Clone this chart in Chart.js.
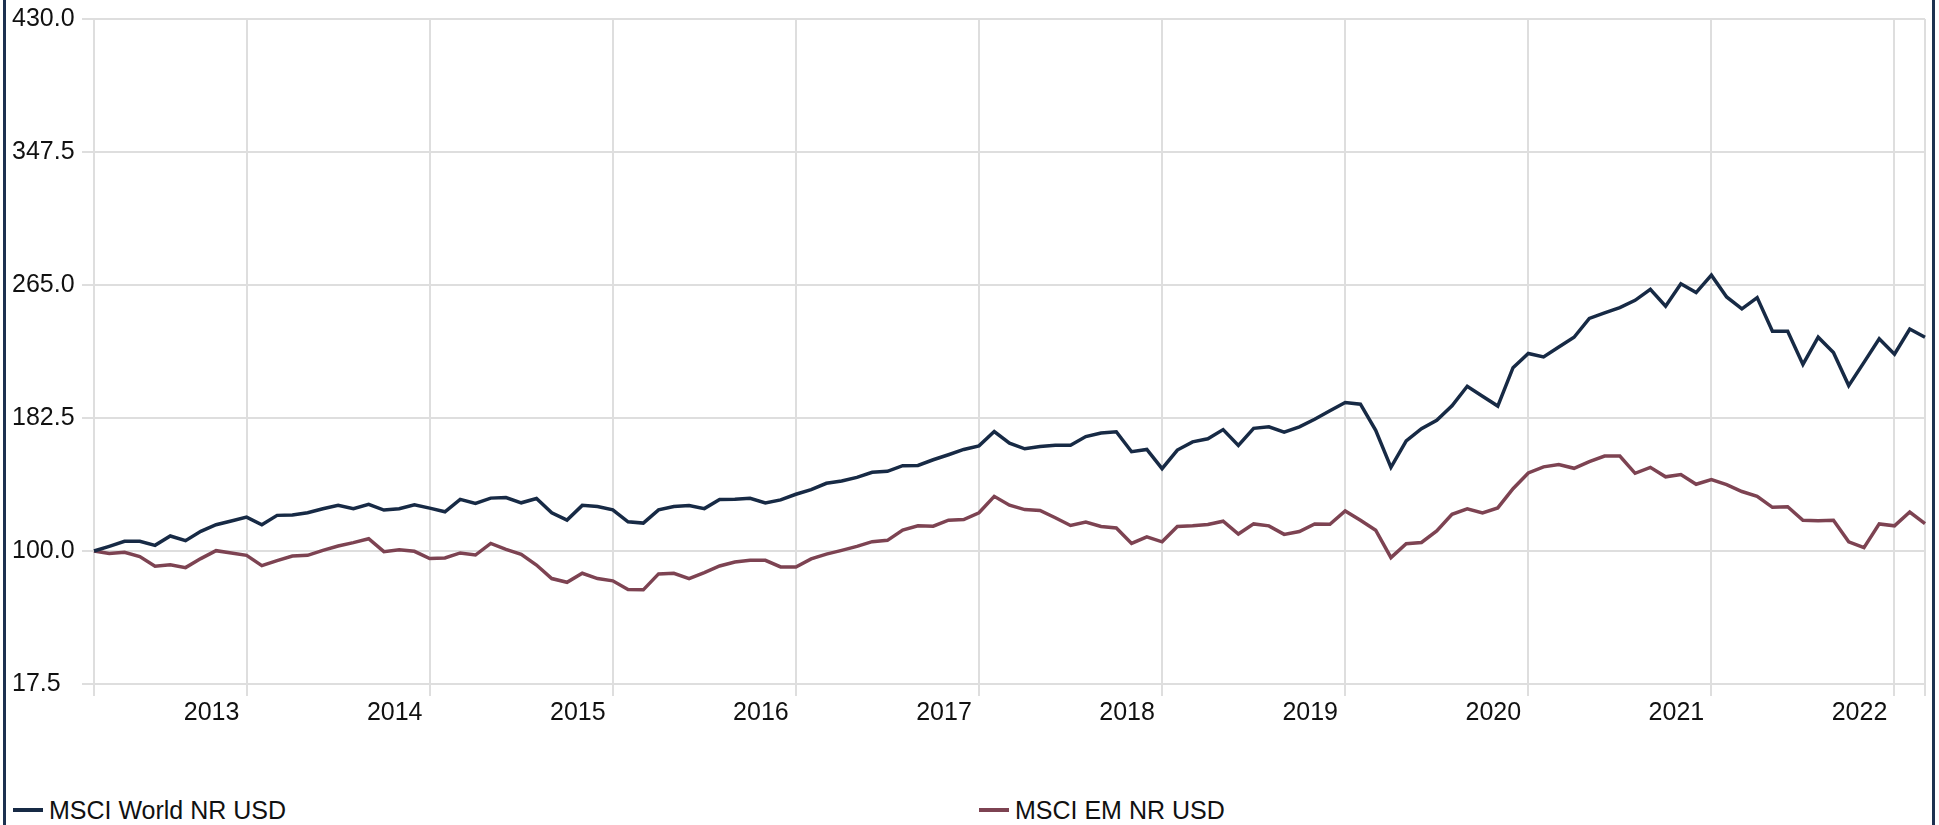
<!DOCTYPE html>
<html>
<head>
<meta charset="utf-8">
<script src="https://cdn.jsdelivr.net/npm/chart.js@4.4.1/dist/chart.umd.min.js"></script>
<style>
  html, body { margin: 0; padding: 0; background: #fff; overflow: hidden; }
  body { width: 1939px; height: 825px; position: relative; font-family: 'Liberation Sans', Arial, sans-serif; }
  #frame { position: absolute; left: 3px; top: -10px; width: 1926px; height: 850px; border-left: 3px solid #1d3150; border-right: 3px solid #1d3150; }
  #chart { position: absolute; left: 0; top: 0; }
  #legend { position: absolute; left: 13px; top: 795px; display: flex; }
  .item { width: 966px; font-size: 25px; line-height: 30px; color: #111; white-space: nowrap; }
  .swatch { display: inline-block; width: 30px; height: 4px; margin-right: 6px; vertical-align: middle; position: relative; top: -2px; }
</style>
</head>
<body>
<div id="frame"></div>
<canvas id="chart" width="1939" height="740"></canvas>
<div id="legend"></div>
<script>
// monthly points, end of Feb 2013 .. end of Feb 2023
const months = []
for (let i = 0; i < 121; i++) {
  const m = (1 + i) % 12
  const y = 2013 + Math.floor((1 + i) / 12)
  months.push(y + '-' + String(m + 1).padStart(2, '0'))
}

const seriesNames = ['MSCI World NR USD', 'MSCI EM NR USD']
const seriesColors = ['#172a45', '#7d4352']

const world = [
  100, 102.9, 106, 106, 103.5, 109.3, 106.4, 112.2, 116.3, 118.6, 121,
  116.3, 122.1, 122.3, 123.7, 126.2, 128.3, 126.2, 128.9, 125.4, 126.2, 128.7, 126.6,
  124.3, 132, 129.5, 132.8, 133.2, 129.9, 132.6, 123.7, 119.2, 128.3, 127.6, 125.5,
  118.1, 117.3, 125.5, 127.6, 128.2, 126.3, 131.9, 132.1, 132.7, 129.8, 131.7, 135.2,
  138.1, 142, 143.4, 145.7, 148.8, 149.4, 152.9, 153.1, 156.6, 159.7, 163, 165.2,
  174.1, 166.9, 163.4, 164.8, 165.6, 165.6, 171, 173.2, 174, 161.6, 163, 151.1,
  162.6, 167.7, 169.6, 175.3, 165.5, 176.1, 177, 173.7, 177, 181.7, 187, 192.1,
  191.1, 174.9, 151.9, 168.3, 175.9, 181.1, 190.1, 202.2, 196, 189.9, 213.7, 222.5,
  220.4, 226.5, 232.6, 244.3, 247.7, 251, 255.5, 262.3, 251.8, 265.8, 260.3, 271.1,
  257.6, 250.2, 257.2, 236.3, 236.3, 215.7, 232.6, 223.1, 202.6, 217, 231.7, 222.1,
  237.7, 232.6
]

const em = [
  100, 98.4, 99.2, 96.5, 90.5, 91.5, 89.7, 95.3, 100.2, 98.8, 97.3,
  90.9, 94, 96.9, 97.3, 100.4, 103.1, 105.2, 107.6, 99.6, 100.8, 99.8, 95.3,
  95.7, 98.8, 97.5, 104.7, 101, 97.9, 91.3, 82.9, 80.6, 86.2, 82.9, 81.5,
  76.1, 75.9, 85.8, 86.2, 82.9, 86.6, 90.7, 93.2, 94.2, 94.2, 90.1, 90.1,
  95.1, 98.1, 100.4, 102.9, 105.8, 106.6, 113, 115.6, 115.4, 119.1, 119.5, 123.7,
  133.9, 128.4, 125.7, 125.1, 120.6, 115.8, 117.9, 115.2, 114.3, 104.7, 108.8, 105.7,
  115.2, 115.6, 116.4, 118.5, 110.5, 116.8, 115.6, 110.3, 112.1, 116.8, 116.6, 124.8,
  119.1, 112.9, 95.9, 104.5, 105.3, 112.5, 122.8, 126.1, 123.6, 126.7, 138.6, 148.4,
  152.2, 153.7, 151.3, 155.4, 158.9, 158.9, 148.2, 151.9, 146, 147.4, 141.4, 144.3,
  141.2, 136.9, 133.9, 127.1, 127.5, 119.1, 118.7, 119.1, 105.7, 102.1, 116.8, 115.6,
  124.2, 117
]

const yTicks = [17.5, 100, 182.5, 265, 347.5, 430]
const yearLabels = ['2013', '2014', '2015', '2016', '2017', '2018', '2019', '2020', '2021', '2022']

const font = { family: "'Liberation Sans', Arial, sans-serif", size: 25 }
const gridColor = '#dedede'

const last = months.length - 1

new Chart(document.getElementById('chart'), {
  type: 'line',
  data: {
    labels: months,
    datasets: [world, em].map((d, i) => ({
      label: seriesNames[i],
      data: d,
      borderColor: seriesColors[i],
      backgroundColor: seriesColors[i],
      borderWidth: 3.5,
      pointRadius: 0,
      tension: 0,
    })),
  },
  options: {
    responsive: false,
    animation: false,
    layout: { padding: { left: 12, right: 14, top: 19, bottom: 0 } },
    plugins: { legend: { display: false }, tooltip: { enabled: false } },
    scales: {
      x: {
        type: 'category',
        afterBuildTicks: (scale) => {
          scale.ticks = scale.ticks.filter(
            (t) => t.value === 0 || t.value === last || months[t.value].endsWith('-12')
          )
        },
        afterFit: (scale) => { scale.height = 56 },
        grid: { color: gridColor, lineWidth: 2, tickLength: 12 },
        border: { color: gridColor, width: 2 },
        ticks: {
          autoSkip: false,
          maxRotation: 0,
          padding: 2,
          labelOffset: -35,
          color: '#111',
          font: font,
          callback: (v) => {
            const y = months[v].slice(0, 4)
            return months[v].endsWith('-12') && yearLabels.includes(y) ? y : ''
          },
        },
      },
      y: {
        min: 17.5,
        max: 430,
        afterBuildTicks: (scale) => {
          scale.ticks = yTicks.map((v) => ({ value: v }))
        },
        afterFit: (scale) => { scale.width = 82 },
        grid: { color: gridColor, lineWidth: 2, tickLength: 12 },
        border: { color: gridColor, width: 2 },
        ticks: {
          crossAlign: 'far',
          color: '#111',
          font: font,
          callback: (v) => Number(v).toFixed(1),
        },
      },
    },
  },
})

const legend = document.getElementById('legend')
seriesNames.forEach((name, i) => {
  const item = document.createElement('div')
  item.className = 'item'
  item.innerHTML = '<span class="swatch" style="background:' + seriesColors[i] + '"></span>' + name
  legend.appendChild(item)
})
</script>
</body>
</html>
